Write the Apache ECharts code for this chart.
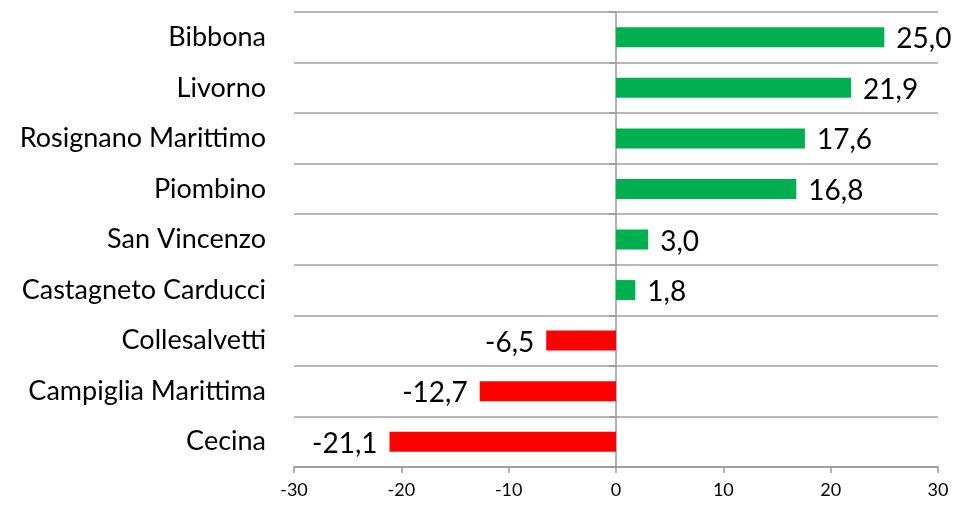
<!DOCTYPE html>
<html>
<head>
<meta charset="utf-8">
<script src="https://cdn.jsdelivr.net/npm/echarts@6/dist/echarts.min.js"></script>
<style>
html,body{margin:0;padding:0;background:#fff;}
#main{width:962px;height:506px;}
</style>
</head>
<body>
<div id="main"></div>
<script>
// comuni, dall'alto verso il basso
var comuni = ["Bibbona", "Livorno", "Rosignano Marittimo", "Piombino", "San Vincenzo",
    "Castagneto Carducci", "Collesalvetti", "Campiglia Marittima", "Cecina"];
// variazione percentuale
var variazione = [25.0, 21.9, 17.6, 16.8, 3.0, 1.8, -6.5, -12.7, -21.1];
// etichette asse x
var xTicks = [-30, -20, -10, 0, 10, 20, 30];

var VERDE = "#00B050";
var ROSSO = "#FF0000";
var FONT = "Lato";

/**
 * costruisce i dati delle barre con colore e posizione etichetta
 */
function buildData(){
    var arr = [];
    for (var i = 0; i < variazione.length; i++) {
        var v = variazione[i];
        arr.push({
            value: v,
            itemStyle: { color: v >= 0 ? VERDE : ROSSO },
            label: { position: v >= 0 ? "right" : "left" }
        });
    }
    return arr;
}

var myChart = echarts.init(document.getElementById("main"));
var option = {
    animation: false,
    grid: { left: 294, right: 24, top: 12, bottom: 39, containLabel: false },
    xAxis: {
        type: "value",
        min: xTicks[0],
        max: xTicks[xTicks.length - 1],
        interval: 10,
        axisLine: { show: true, onZero: false, lineStyle: { color: "#999", width: 1.5 } },
        axisTick: { show: true, length: 6, lineStyle: { color: "#999", width: 1.5 } },
        axisLabel: { color: "#000", fontFamily: FONT, fontSize: 18, margin: 14 },
        splitLine: { show: false }
    },
    yAxis: [
        {
            type: "category",
            data: comuni,
            inverse: true,
            position: "left",
            axisLine: { show: false, onZero: false },
            axisTick: { show: false },
            axisLabel: { color: "#000", fontFamily: FONT, fontSize: 27, margin: 28 },
            splitLine: { show: true, lineStyle: { color: "#a0a0a0", width: 1.5 } }
        },
        {
            type: "category",
            data: comuni,
            inverse: true,
            position: "left",
            axisLine: { show: true, onZero: true, lineStyle: { color: "#999", width: 1.5 } },
            axisTick: { show: true, length: 7, lineStyle: { color: "#999", width: 1.5 } },
            axisLabel: { show: false },
            splitLine: { show: false }
        }
    ],
    series: [
        {
            type: "bar",
            yAxisIndex: 0,
            barWidth: 20,
            data: buildData(),
            label: {
                show: true,
                distance: 12,
                color: "#000",
                fontFamily: FONT,
                fontSize: 28,
                offset: [0, 2],
                formatter: function (p) {
                    return p.value.toFixed(1).replace(".", ",");
                }
            }
        }
    ]
};
myChart.setOption(option);
</script>
</body>
</html>
